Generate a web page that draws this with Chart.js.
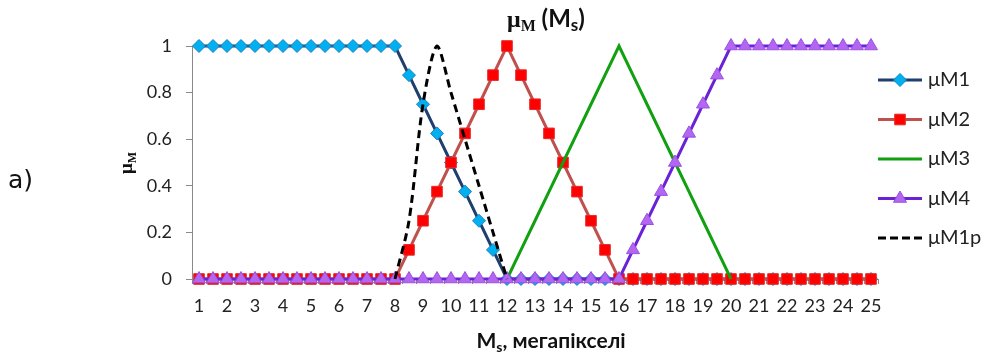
<!DOCTYPE html>
<html><head><meta charset="utf-8">
<script src="https://cdn.jsdelivr.net/npm/chart.js@4/dist/chart.umd.min.js"></script>
<style>html,body{margin:0;padding:0;background:#fff;overflow:hidden}</style>
</head><body>
<canvas id="c" width="991" height="355"></canvas>
<script>
const categories = [1,1.5,2,2.5,3,3.5,4,4.5,5,5.5,6,6.5,7,7.5,8,8.5,9,9.5,10,10.5,11,11.5,12,12.5,13,13.5,14,14.5,15,15.5,16,16.5,17,17.5,18,18.5,19,19.5,20,20.5,21,21.5,22,22.5,23,23.5,24,24.5,25];
const xTickLabels = ['1','2','3','4','5','6','7','8','9','10','11','12','13','14','15','16','17','18','19','20','21','22','23','24','25'];
const yTickValues = [0,0.2,0.4,0.6,0.8,1];

const muM1 = [1,1,1,1,1,1,1,1,1,1,1,1,1,1,1,
  0.875,0.75,0.625,0.5,0.375,0.25,0.125,
  0,
  0,0,0,0,0,0,0,0,0,0,0,0,0,
  0,0,0,0,0,0,0,0,0,0,0,0,0];
const muM2 = [0,0,0,0,0,0,0,0,0,0,0,0,0,0,0,
  0.125,0.25,0.375,0.5,0.625,0.75,0.875,
  1,
  0.875,0.75,0.625,0.5,0.375,0.25,0.125,
  0,
  0,0,0,0,0,0,0,0,0,0,0,0,0,0,0,0,0,0];
const muM3 = [null,null,null,null,null,null,null,null,null,null,null,null,null,null,null,null,null,null,null,null,null,null,
  0,0.125,0.25,0.375,0.5,0.625,0.75,0.875,
  1,
  0.875,0.75,0.625,0.5,0.375,0.25,0.125,0,
  null,null,null,null,null,null,null,null,null,null];
const muM4 = [0,0,0,0,0,0,0,0,0,0,0,0,0,0,0,0,0,0,0,0,0,0,0,0,0,0,0,0,0,0,0,
  0.125,0.25,0.375,0.5,0.625,0.75,0.875,
  1,
  1,1,1,1,1,1,1,1,1,1];
const muM1p = [null,null,null,null,null,null,null,null,null,null,null,null,null,null,
  0,0.25,0.75,1,0.8,0.6,0.4,0.2,0,
  null,null,null,null,null,null,null,null,null,null,null,null,null,
  null,null,null,null,null,null,null,null,null,null,null,null,null];

function marker(ctx, style, x, y, r){
  ctx.beginPath();
  if (style === 'rectRot'){ ctx.moveTo(x-r,y); ctx.lineTo(x,y-r); ctx.lineTo(x+r,y); ctx.lineTo(x,y+r); }
  else if (style === 'rect'){ const s=r*Math.SQRT1_2; ctx.rect(x-s,y-s,2*s,2*s); }
  else if (style === 'triangle'){ const h=r*Math.sqrt(3)/2; ctx.moveTo(x,y-r); ctx.lineTo(x+h,y+r/2); ctx.lineTo(x-h,y+r/2); }
  ctx.closePath(); ctx.fill(); ctx.stroke();
}
function rich(ctx, parts, cx, by){
  let w=0; parts.forEach(p=>{ctx.font=p.f; p.w=ctx.measureText(p.t).width; w+=p.w;});
  let x = cx - w/2; ctx.textAlign='left';
  parts.forEach(p=>{ctx.font=p.f; ctx.fillText(p.t, x, by+p.dy); x+=p.w;});
}
const decor = {
  id:'decor',
  afterDraw(chart){
    const ctx = chart.ctx;
    ctx.save();
    ctx.fillStyle = '#111'; ctx.textBaseline = 'alphabetic';
    rich(ctx, [
      {t:'μ', f:'bold 24px "Liberation Serif"', dy:0},
      {t:'M', f:'bold 16px "Liberation Serif"', dy:4},
      {t:' (M', f:'bold 24px Lato', dy:0},
      {t:'s', f:'bold 17px Lato', dy:4},
      {t:')', f:'bold 24px Lato', dy:0}], 546, 27);
    rich(ctx, [
      {t:'M', f:'bold 21px Lato', dy:0},
      {t:'s', f:'bold 14px Lato', dy:4},
      {t:', мегапікселі', f:'bold 21px Lato', dy:0}], 551, 348);
    ctx.save(); ctx.translate(132,163); ctx.rotate(-Math.PI/2);
    rich(ctx, [
      {t:'μ', f:'bold 19px "Liberation Serif"', dy:0},
      {t:'M', f:'bold 12px "Liberation Serif"', dy:4}], 0, 0);
    ctx.restore();
    ctx.font = '25px "DejaVu Sans"'; ctx.textAlign='left'; ctx.fillStyle='#111';
    ctx.fillText('a)', 8, 188);
    // legend
    chart.data.datasets.forEach((d,i)=>{
      const y = 80 + 39.5*i, x0 = 878, x1 = 922;
      ctx.save(); ctx.strokeStyle = d.borderColor; ctx.lineWidth = 3;
      ctx.setLineDash(d.borderDash ? [8,4] : []);
      ctx.beginPath(); ctx.moveTo(x0,y); ctx.lineTo(x1,y); ctx.stroke(); ctx.restore();
      if (d.pointRadius > 0){
        ctx.save(); ctx.fillStyle = d.pointBackgroundColor; ctx.strokeStyle = d.pointBorderColor; ctx.lineWidth = d.pointBorderWidth;
        marker(ctx, d.pointStyle, 900, y, d.pointRadius); ctx.restore();
      }
      ctx.fillStyle = '#222'; ctx.font = '20px Lato'; ctx.textBaseline = 'middle'; ctx.textAlign='left';
      ctx.fillText(d.label, 928, y);
    });
    ctx.restore();
  }
};

new Chart(document.getElementById('c'), {
  type:'line',
  data:{
    labels: categories.map(String),
    datasets:[
      {label:'μM1', data:muM1, borderColor:'#1F3F6E', borderWidth:3, pointStyle:'rectRot', pointRadius:6.5, pointBackgroundColor:'#00B0F0', pointBorderColor:'#1A7FBF', pointBorderWidth:1, order:5, clip:false},
      {label:'μM2', data:muM2, borderColor:'#C0504D', borderWidth:3, pointStyle:'rect', pointRadius:7.5, pointBackgroundColor:'#FF0000', pointBorderColor:'#E82828', pointBorderWidth:1, order:4, clip:false},
      {label:'μM3', data:muM3, borderColor:'#10A010', borderWidth:3, pointRadius:0, order:3, clip:false},
      {label:'μM4', data:muM4, borderColor:'#6A22D6', borderWidth:3, pointStyle:'triangle', pointRadius:7.5, pointBackgroundColor:'#B266F2', pointBorderColor:'#9A50E0', pointBorderWidth:1, order:2, clip:false},
      {label:'μM1p', data:muM1p, borderColor:'#000000', borderWidth:3, borderDash:[8,5], pointRadius:0, tension:0.3, order:1, clip:false}
    ]
  },
  options:{
    responsive:false, animation:false,
    layout:{padding:{left:132, right:113, top:46, bottom:0}},
    plugins:{legend:{display:false}, tooltip:{enabled:false}},
    scales:{
      x:{type:'category', offset:true,
        grid:{display:true, drawOnChartArea:false, offset:true, tickLength:5, color:'#8a8a8a'},
        border:{color:'#8a8a8a', width:1},
        ticks:{autoSkip:false, maxRotation:0, minRotation:0, padding:11, color:'#222', font:{family:'Lato', size:18},
          callback:(v,i)=> xTickLabels.includes(String(categories[i])) ? String(categories[i]) : ''},
        afterFit:(s)=>{s.height = 76;}
      },
      y:{min:0, max:1,
        afterBuildTicks:(s)=>{ s.ticks = yTickValues.map(v=>({value:v})); },
        grid:{drawOnChartArea:false, tickLength:6, color:'#8a8a8a'},
        border:{color:'#8a8a8a', width:1},
        ticks:{padding:14, color:'#222', font:{family:'Lato', size:18}, callback:(v)=> String(Number(v.toFixed(1)))},
        afterFit:(s)=>{s.width = 60;}
      }
    }
  },
  plugins:[decor]
});
</script>
</body></html>
